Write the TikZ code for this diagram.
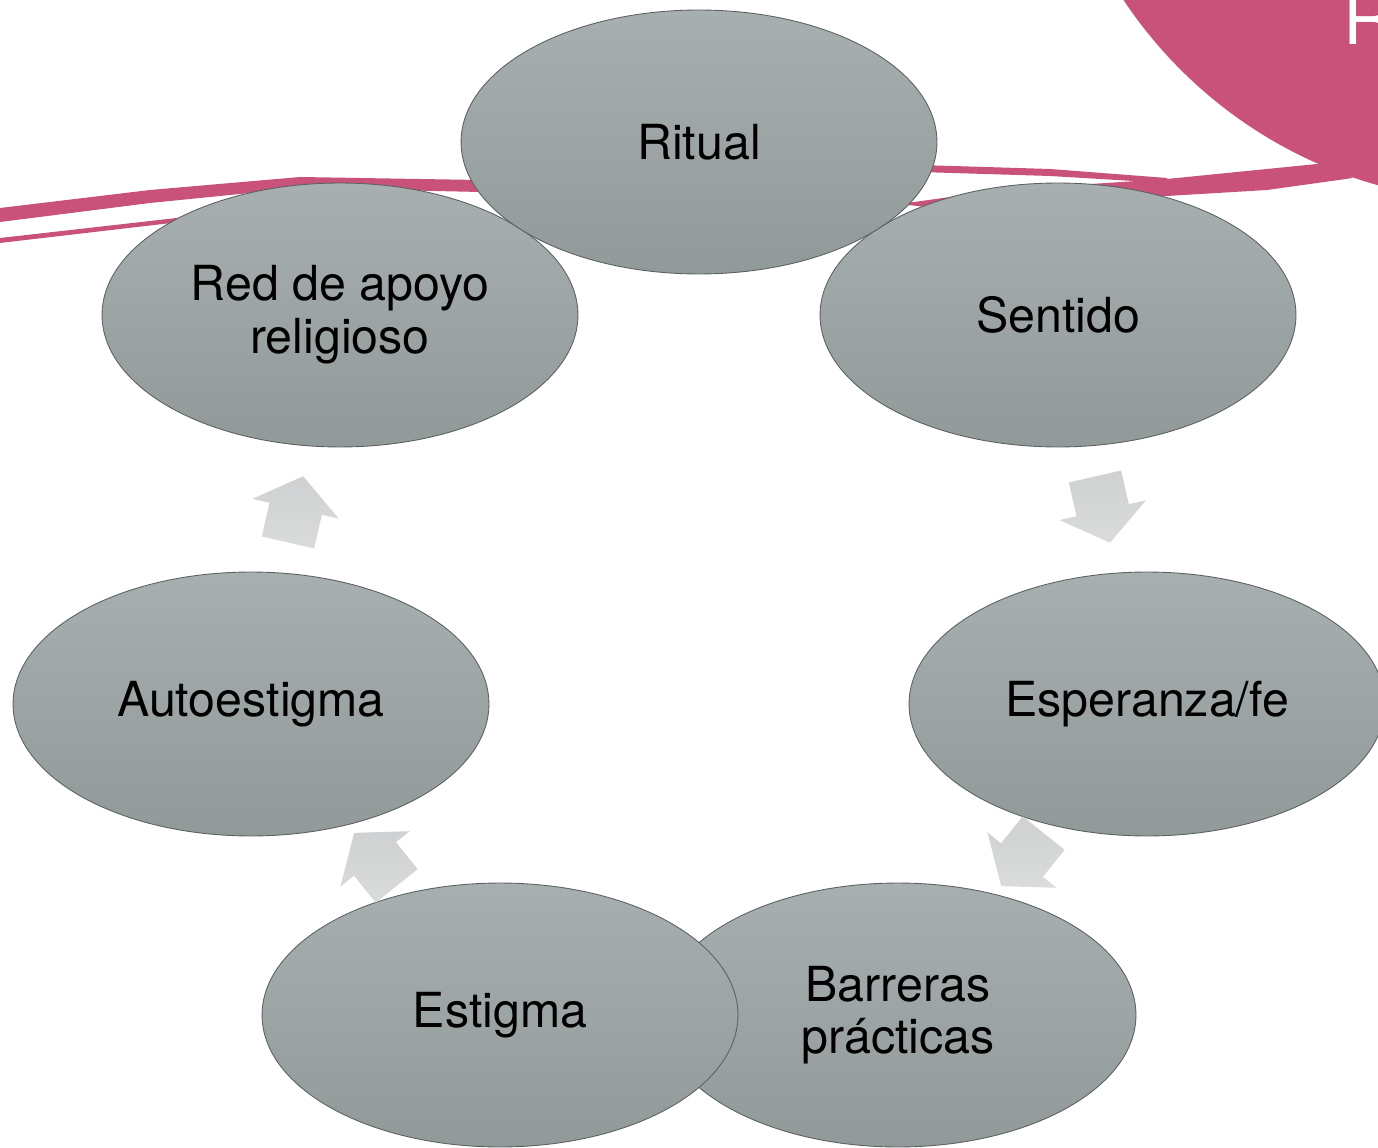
\documentclass[tikz,border=0pt]{standalone}
\usepackage{fontspec}
\setmainfont{TeX Gyre Heros}
\usepackage{tikz}
\usetikzlibrary{shapes.geometric,shapes.arrows,calc}

\definecolor{rosa}{RGB}{200,82,122}
\definecolor{grisA}{RGB}{168,175,176}
\definecolor{grisB}{RGB}{145,153,153}
\definecolor{borde}{RGB}{92,97,98}
\definecolor{flechaA}{RGB}{206,208,209}
\definecolor{flechaB}{RGB}{218,220,220}

\begin{document}
\begin{tikzpicture}[x=0.02cm, y=-0.02cm,
	elli/.style={ellipse, draw=borde, line width=0.5pt, top color=grisA, bottom color=grisB,
		minimum width=9.52cm, minimum height=5.28cm, inner sep=0pt, align=center,
		font=\fontsize{27.5}{30}\selectfont},
	flecha/.style={single arrow, top color=flechaA, bottom color=flechaB, draw=none,
		inner xsep=0.1cm, inner ysep=0.53cm, minimum height=1.36cm,
		single arrow head extend=0.35cm, single arrow tip angle=106}]
	\useasboundingbox (0,0) rectangle (1378,1148);
	
	% background
	\fill[rosa] (1500,-250) circle [radius=9.04cm];
	\node[anchor=base west, text=white, font=\fontsize{40}{40}\selectfont, inner sep=0pt] (tit) at (1343,45) {R};
	\fill[rosa] (0,208) -- (150,190) -- (300,177) -- (480,180) -- (480,192) -- (300,188) -- (150,203) -- (0,222) -- cycle;
	\fill[rosa] (0,238) -- (300,204) -- (300,208) -- (0,243) -- cycle;
	\fill[rosa] (920,165) -- (1050,169) -- (1167,178) -- (1167,183) -- (1050,176) -- (920,172) -- cycle;
	\fill[rosa] (900,204) -- (1000,190) -- (1167,179) -- (1327,163) -- (1353,178) -- (1267,190) -- (1100,200) -- (950,210) -- cycle;
	
	% cycle
	\node[elli] (c2) at (1058,315) {Sentido};
	\node[elli] (c3) at (1147,704) {Esperanza/fe};
	\node[elli] (c4) at (898,1015) {Barreras\\prácticas};
	\node[elli] (c5) at (500,1015) {Estigma};
	\node[elli] (c6) at (251,704) {Autoestigma};
	\node[elli] (c7) at (340,315) {Red de apoyo\\religioso};
	\node[elli] (c1) at (699,142) {Ritual};
	
	% arrows
	\node[flecha, rotate=-77.1] (a1) at ($(c2)!0.475!(c3)$) {};
	\node[flecha, rotate=-128.7] (a2) at ($(c3)!0.475!(c4)$) {};
	\node[flecha, rotate=128.7] (a3) at ($(c5)!0.475!(c6)$) {};
	\node[flecha, rotate=77.1] (a4) at ($(c6)!0.475!(c7)$) {};
\end{tikzpicture}
\end{document}
